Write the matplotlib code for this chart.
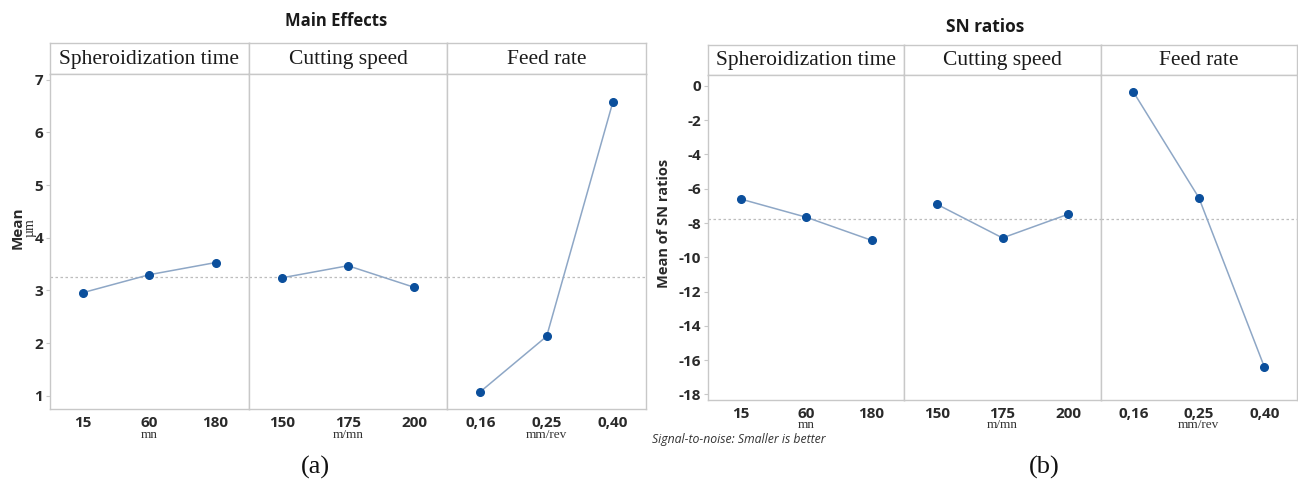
import numpy as np
import matplotlib
matplotlib.use("Agg")
import matplotlib.pyplot as plt

# factors and levels (same for both panels)
factors = ["Spheroidization time", "Cutting speed", "Feed rate"]
levels = [["15", "60", "180"], ["150", "175", "200"], ["0,16", "0,25", "0,40"]]
units = ["mn", "m/mn", "mm/rev"]

# (a) main effects for means (µm)
means = [[2.96, 3.30, 3.53], [3.24, 3.47, 3.06], [1.08, 2.13, 6.58]]
mean_ticks = [1, 2, 3, 4, 5, 6, 7]

# (b) main effects for SN ratios
sn_ratios = [[-6.60, -7.66, -9.01], [-6.91, -8.87, -7.49], [-0.35, -6.52, -16.39]]
sn_ticks = [0, -2, -4, -6, -8, -10, -12, -14, -16, -18]
sn_tick_labels = ["0", "-2", "-4", "-6", "-8", "-10", "-12", "-14", "-16", "-18"]

W, H = 1298, 482
FRAME = "#c8c8c8"
LINE = "#8ea7c6"
DOT = "#0b4f9c"
SANS = ["Open Sans", "DejaVu Sans"]
SERIF = ["Liberation Serif", "DejaVu Serif"]
TXT = "#2a2a2a"

fig = plt.figure(figsize=(W / 100, H / 100), dpi=100)


def box(l, t, r, b):
    return [l / W, 1 - b / H, (r - l) / W, (b - t) / H]


def panel(values, left, right, strip_top, top, bottom, ylim, ticks, ticklabels,
          unit_off):
    ref = np.mean(values)
    fw = (right - left) / 3
    axes = []
    for i in range(3):
        l = left + i * fw
        r = l + fw
        # strip with factor name
        sa = fig.add_axes(box(l, strip_top, r, top))
        sa.set_xticks([])
        sa.set_yticks([])
        for s in sa.spines.values():
            s.set_color(FRAME)
            s.set_linewidth(1)
        sa.text(0.5, 0.47, factors[i], ha="center", va="center",
                family=SERIF, fontsize=15.5, color="#1a1a1a",
                transform=sa.transAxes)

        ax = fig.add_axes(box(l, top, r, bottom))
        x = np.arange(3)
        ax.axhline(ref, color="#bdbdbd", lw=0.9, ls=(0, (2, 2)), zorder=1)
        ax.plot(x, values[i], color=LINE, lw=1.1, zorder=2)
        ax.plot(x, values[i], "o", color=DOT, ms=5.5, zorder=3)
        ax.set_xlim(-0.5, 2.5)
        ax.set_ylim(*ylim)
        ax.set_xticks(x)
        ax.set_xticklabels(levels[i], family=SANS, fontsize=11,
                           fontweight="bold", color=TXT)
        ax.tick_params(axis="x", length=0, pad=5)
        for s in ax.spines.values():
            s.set_color(FRAME)
            s.set_linewidth(1)
        if i == 0:
            ax.set_yticks(ticks)
            ax.set_yticklabels(ticklabels, family=SANS, fontsize=11,
                               fontweight="bold", color=TXT)
            ax.tick_params(axis="y", length=3, color=FRAME, pad=2)
        else:
            ax.set_yticks([])
        ax.annotate(units[i], xy=(0.5, 0), xycoords="axes fraction",
                    xytext=(0, unit_off), textcoords="offset points",
                    ha="center", va="center", family=SERIF, fontsize=9.5,
                    color="#333333")
        axes.append(ax)
    return axes


panel(means, 50, 646, 43, 74, 409, (0.75, 7.11), mean_ticks,
      [str(t) for t in mean_ticks], -19)
panel(sn_ratios, 708, 1297, 45, 75, 400, (-18.33, 0.64), sn_ticks,
      sn_tick_labels, -18)

# titles and labels
fig.text(336 / W, 1 - 21 / H, "Main Effects", ha="center", va="center",
         family=SANS, fontsize=12, fontweight="bold", color="#1a1a1a")
fig.text(985 / W, 1 - 27 / H, "SN ratios", ha="center", va="center",
         family=SANS, fontsize=12.5, fontweight="bold", color="#1a1a1a")
fig.text(18 / W, 1 - 228 / H, "Mean", rotation=90, ha="center", va="center",
         family=SANS, fontsize=11, fontweight="bold", color=TXT)
fig.text(30 / W, 1 - 228 / H, "µm", rotation=90, ha="center", va="center",
         family=SERIF, fontsize=10, color=TXT)
fig.text(664 / W, 1 - 223 / H, "Mean of SN ratios", rotation=90, ha="center",
         va="center", family=SANS, fontsize=10.5, fontweight="bold",
         color=TXT)
fig.text(652 / W, 1 - 439 / H, "Signal-to-noise: Smaller is better",
         ha="left", va="center", family=SANS, fontsize=8.8, style="italic",
         color="#333333")
fig.text(315 / W, 1 - 467 / H, "(a)", ha="center", va="center", family=SERIF,
         fontsize=19, color="#111111")
fig.text(1044 / W, 1 - 467 / H, "(b)", ha="center", va="center", family=SERIF,
         fontsize=19, color="#111111")

fig.savefig("out.png", dpi=100, facecolor="white")
